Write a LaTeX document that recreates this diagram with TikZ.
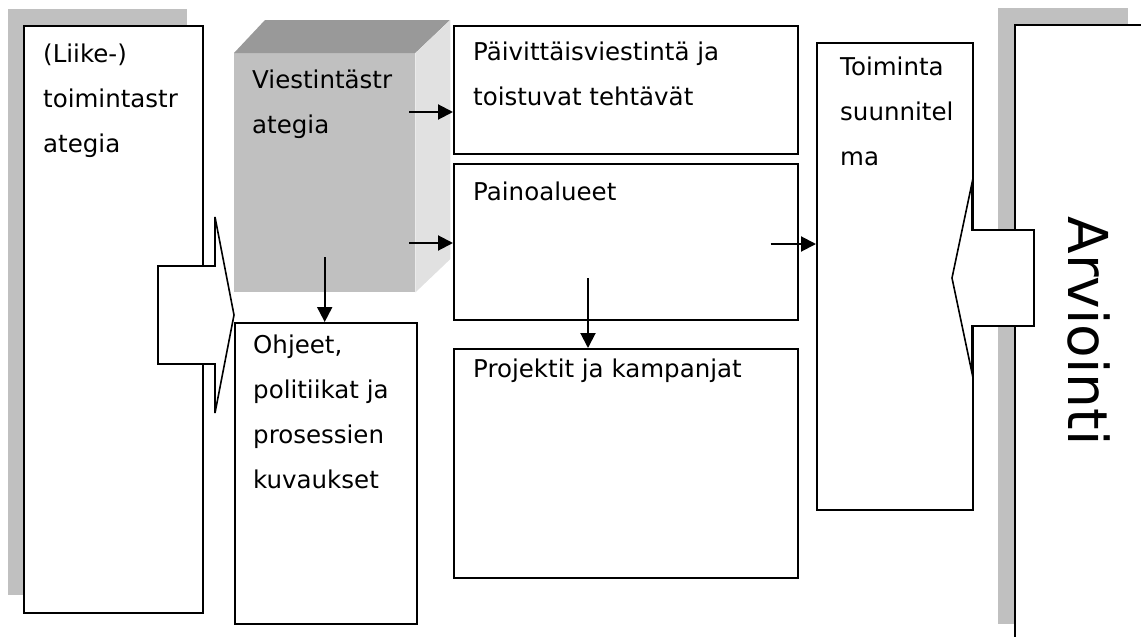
\documentclass[tikz,border=0pt]{standalone}
\usepackage{fontspec}
\setmainfont{DejaVu Sans}
\usetikzlibrary{arrows.meta}
\definecolor{shadegray}{RGB}{192,192,192}
\definecolor{topgray}{RGB}{153,153,153}
\definecolor{sidegray}{RGB}{225,225,225}

\begin{document}
\begin{tikzpicture}[x=1pt, y=-1pt,
	every node/.style={font=\fontsize{24.5}{45}\selectfont},
	box/.style={draw, line width=1.6pt, fill=white, anchor=north west, inner sep=0pt},
	txt/.style={anchor=north west, inner sep=0pt, align=left},
	arr/.style={line width=2pt, -{Triangle[length=15pt,width=15pt]}},
	bigarrow/.style={draw, line width=1.6pt, fill=white}]
	\useasboundingbox (0,0) rectangle (1141,637);
	\fill[shadegray] (8,9) rectangle (187,595);
	\node[box, minimum width=179pt, minimum height=587pt] (liike) at (23,25) {};
	\node[fill=shadegray, anchor=north west, inner sep=0pt, minimum width=181pt, minimum height=239pt] (strat) at (234,53) {};
	\fill[topgray] (strat.north west) -- ++(31,-33) -- ++(185,0) -- (strat.north east) -- cycle;
	\fill[sidegray] (strat.north east) -- ++(35,-33) -- ++(0,239) -- (strat.south east) -- cycle;
	\node[box, minimum width=344pt, minimum height=128pt] (paiv) at (453,25) {};
	\node[box, minimum width=344pt, minimum height=156pt] (paino) at (453,163) {};
	\node[box, minimum width=182pt, minimum height=301pt] (ohj) at (234,322) {};
	\node[box, minimum width=344pt, minimum height=229pt] (proj) at (453,348) {};
	\node[box, minimum width=156pt, minimum height=467pt] (toim) at (816,42) {};
	\fill[shadegray] (998,8) rectangle (1128,624);
	\node[box, minimum width=300pt, minimum height=700pt] (arv) at (1014,24) {};
	\draw[bigarrow] (158,266) -- (215,266) -- (215,217) -- (234,315) -- (215,413) -- (215,364) -- (158,364) -- cycle;
	\draw[bigarrow] (1034,230) -- (972,230) -- (972,183) -- (952,278) -- (972,373) -- (972,326) -- (1034,326) -- cycle;
	\node[txt] (liiketxt) at ([shift={(20,5.5)}]liike.north west) {\strut(Liike-)\\toimintastr\\ategia};
	\node[txt] (strattxt) at ([shift={(18,3.5)}]strat.north west) {\strut Viestintästr\\ategia};
	\node[txt] (paivtxt) at ([shift={(20,3.5)}]paiv.north west) {\strut Päivittäisviestintä ja\\toistuvat tehtävät};
	\node[txt] (painotxt) at ([shift={(20,5.5)}]paino.north west) {\strut Painoalueet};
	\node[txt] (ohjtxt) at ([shift={(19,-0.5)}]ohj.north west) {\strut Ohjeet,\\politiikat ja\\prosessien\\kuvaukset};
	\node[txt] (projtxt) at ([shift={(20,-2.5)}]proj.north west) {\strut Projektit ja kampanjat};
	\node[txt] (toimtxt) at ([shift={(24,1.5)}]toim.north west) {\strut Toiminta\\suunnitel\\ma};
	\node[rotate=-90, inner sep=0pt, font=\fontsize{55}{60}\selectfont] (arvtxt) at (1089,331) {Arviointi};
	\draw[arr] ([shift={(-6,59)}]strat.north east) coordinate (s1) -- (s1 -| paiv.west);
	\draw[arr] ([shift={(-6,190)}]strat.north east) coordinate (s2) -- (s2 -| paino.west);
	\draw[arr] ([yshift=35pt]strat.south) -- (strat.south |- ohj.north);
	\draw[arr] ([shift={(135,115)}]paino.north west) coordinate (p4) -- (p4 |- proj.north);
	\draw[arr] ([shift={(-28,81)}]paino.north east) coordinate (p5) -- (p5 -| toim.west);
\end{tikzpicture}
\end{document}
